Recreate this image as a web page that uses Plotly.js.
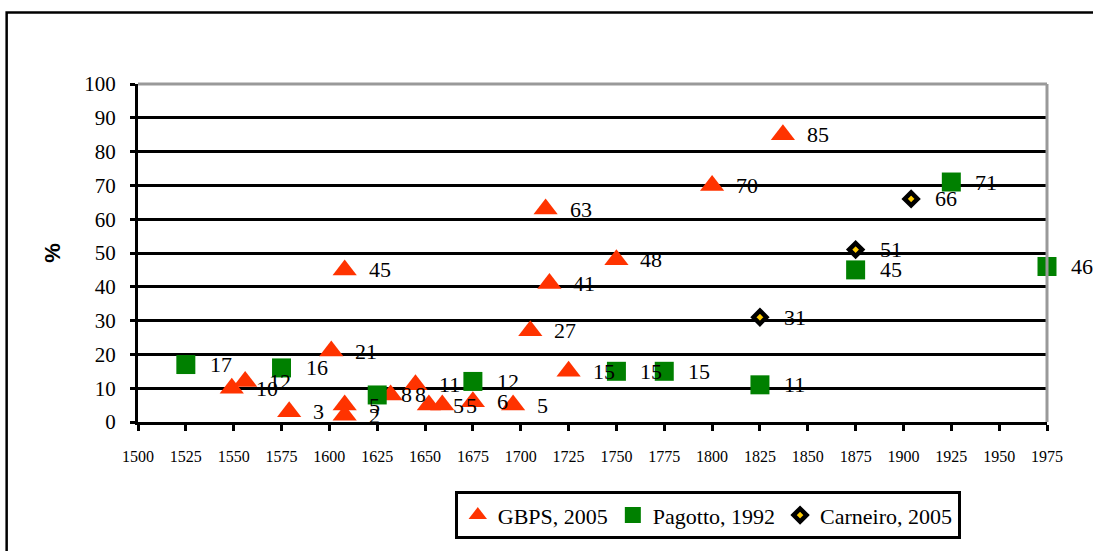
<!DOCTYPE html>
<html>
<head>
<meta charset="utf-8">
<script src="https://cdn.plot.ly/plotly-3.0.1.min.js"></script>
<style>
  html, body { margin: 0; padding: 0; background: #fff; }
  #chart { width: 1093px; height: 551px; }
</style>
</head>
<body>
<div id="chart"></div>
<script>
// ---- Data ----
const gbpsYears = [1549, 1556, 1579, 1601, 1608, 1608, 1608, 1632, 1645, 1652, 1659, 1675, 1696, 1705, 1713, 1715, 1725, 1750, 1800, 1837];
const gbpsPct   = [10, 12, 3, 21, 45, 5, 2, 8, 11, 5, 5, 6, 5, 27, 63, 41, 15, 48, 70, 85];

const pagottoYears = [1525, 1575, 1625, 1675, 1750, 1775, 1825, 1875, 1925, 1975];
const pagottoPct   = [17, 16, 8, 12, 15, 15, 11, 45, 71, 46];

const carneiroYears = [1825, 1875, 1904];
const carneiroPct   = [31, 51, 66];

const seriesNames = ['GBPS, 2005', 'Pagotto, 1992', 'Carneiro, 2005'];
const yAxisTitle = '%';

// ---- Styling ----
const FONT = 'Liberation Serif, Times New Roman, serif';

const traces = [
  {
    type: 'scatter', mode: 'markers', name: seriesNames[0],
    x: gbpsYears, y: gbpsPct, cliponaxis: false,
    marker: { symbol: 'triangle-up', size: 21, color: '#FF3300' }
  },
  {
    type: 'scatter', mode: 'markers', name: seriesNames[1],
    x: pagottoYears, y: pagottoPct, cliponaxis: false,
    marker: { symbol: 'square', size: 19, color: '#008000' }
  },
  {
    type: 'scatter', mode: 'markers', name: seriesNames[2],
    x: carneiroYears, y: carneiroPct, cliponaxis: false,
    marker: { symbol: 'diamond', size: 10, color: '#FFCC00', line: { color: '#000', width: 4.5 } }
  }
];

function labels(xs, ys) {
  return xs.map((x, i) => ({
    x: x, y: ys[i], xref: 'x', yref: 'y',
    text: String(ys[i]), showarrow: false,
    xanchor: 'left', yanchor: 'middle', xshift: 22,
    font: { family: FONT, size: 22, color: '#000' }
  }));
}

const annotations = []
  .concat(labels(gbpsYears, gbpsPct))
  .concat(labels(pagottoYears, pagottoPct))
  .concat(labels(carneiroYears, carneiroPct));

const layout = {
  width: 1093, height: 551,
  margin: { l: 138, r: 46, t: 84, b: 127, pad: 0 },
  paper_bgcolor: '#fff', plot_bgcolor: '#fff',
  font: { family: FONT, color: '#000' },
  showlegend: true,
  legend: {
    orientation: 'h', x: 0.3485, xanchor: 'left', y: -0.205, yanchor: 'top',
    bordercolor: '#000', borderwidth: 3, bgcolor: '#fff',
    font: { family: FONT, size: 22, color: '#000' },
    itemwidth: 30
  },
  xaxis: {
    range: [1500, 1975], tick0: 1500, dtick: 25, tickmode: 'linear',
    showgrid: false, zeroline: false,
    showline: true, linecolor: '#000', linewidth: 3,
    ticks: 'outside', ticklen: 6, tickwidth: 3, tickcolor: '#000',
    ticklabelstandoff: 12,
    tickfont: { family: FONT, size: 16, color: '#000' }
  },
  yaxis: {
    range: [0, 100], tick0: 0, dtick: 10, tickmode: 'linear',
    showgrid: true, gridcolor: '#000', gridwidth: 3,
    zeroline: false,
    showline: true, linecolor: '#000', linewidth: 3,
    ticks: 'outside', ticklen: 5, tickwidth: 3, tickcolor: '#000',
    ticklabelstandoff: 10,
    tickfont: { family: FONT, size: 21, color: '#000' },
    title: { text: '<b>' + yAxisTitle + '</b>', font: { family: 'Liberation Sans, Arial, sans-serif', size: 22, color: '#000' }, standoff: 18 }
  },
  shapes: [
    // grey plot-area border (top and right)
    { type: 'line', xref: 'paper', yref: 'paper', x0: 0, x1: 1, y0: 1, y1: 1, line: { color: '#999', width: 3 }, layer: 'above' },
    { type: 'line', xref: 'paper', yref: 'paper', x0: 1, x1: 1, y0: 0, y1: 1, line: { color: '#999', width: 3 }, layer: 'above' },
    // outer chart-area border
    { type: 'rect', xref: 'paper', yref: 'paper', x0: -0.1445, x1: 1.2, y0: -0.6, y1: 1.2112, line: { color: '#000', width: 2.5 }, layer: 'below' }
  ],
  annotations: annotations
};

Plotly.newPlot('chart', traces, layout, { staticPlot: true, displayModeBar: false });
</script>
</body>
</html>
